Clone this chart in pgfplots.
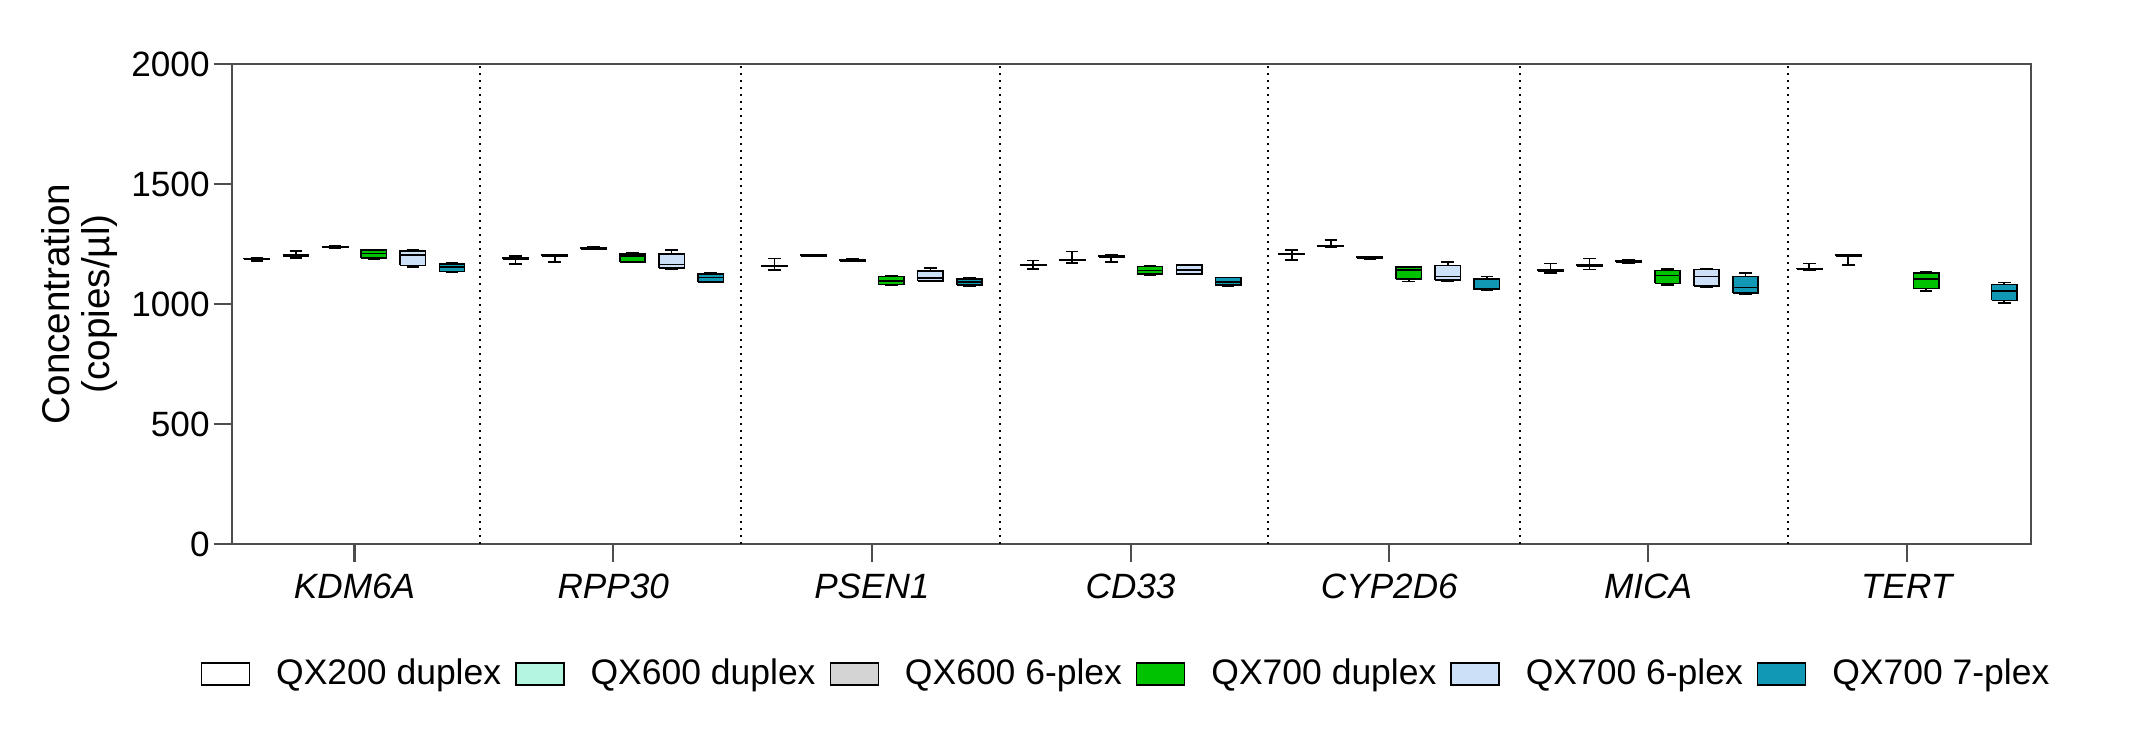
\documentclass[border=0pt]{standalone}
\usepackage{fontspec}
\setmainfont{Liberation Sans}
\usepackage{pgfplots}
\pgfplotsset{compat=1.18}
\definecolor{cA}{HTML}{FFFFFF}
\definecolor{cB}{HTML}{B3F5E1}
\definecolor{cC}{HTML}{D4D4D4}
\definecolor{cD}{HTML}{00C200}
\definecolor{cE}{HTML}{CCE0F8}
\definecolor{cF}{HTML}{1198B5}
\definecolor{axgray}{HTML}{4D4D4D}
\pgfplotsset{legend image code/.code={\draw[#1, line width=0.4pt] (0mm,-1.1mm) rectangle (4.8mm,1.1mm);}}
% \bx{fill}{position}{lower whisker}{lower quartile}{median}{upper quartile}{upper whisker}
\newcommand{\bx}[7]{%
  \pgfmathsetmacro{\bxL}{#2-0.049}\pgfmathsetmacro{\bxR}{#2+0.049}%
  \pgfmathsetmacro{\capL}{#2-0.0245}\pgfmathsetmacro{\capR}{#2+0.0245}%
  \edef\doit{%
    \noexpand\addplot[forget plot, black, line width=0.45pt] coordinates {(#2,#6) (#2,#7)};
    \noexpand\addplot[forget plot, black, line width=0.45pt] coordinates {(#2,#4) (#2,#3)};
    \noexpand\addplot[forget plot, black, line width=0.45pt] coordinates {(\capL,#7) (\capR,#7)};
    \noexpand\addplot[forget plot, black, line width=0.45pt] coordinates {(\capL,#3) (\capR,#3)};
    \noexpand\addplot[forget plot, draw=black, line width=0.45pt, fill=#1] coordinates {(\bxL,#4) (\bxR,#4) (\bxR,#6) (\bxL,#6) (\bxL,#4)};
    \noexpand\addplot[forget plot, black, line width=0.45pt] coordinates {(\bxL,#5) (\bxR,#5)};
  }\doit}
\newcommand{\sepline}[1]{\addplot[forget plot, black, line width=0.22mm, dash pattern=on 0.2mm off 0.5mm] coordinates {(#1,0) (#1,2000)};}
\begin{document}
\begin{tikzpicture}
\useasboundingbox (-23.2mm,-18.6mm) rectangle (190.4mm,54.4mm);
\begin{axis}[
  at={(0,0)}, anchor=south west,
  width=179.9mm, height=48mm, scale only axis,
  xmin=-0.4735, xmax=6.4804, ymin=0, ymax=2000,
  ytick={0,500,1000,1500,2000},
  xtick={0,1,2,3,4,5,6},
  xticklabels={KDM6A,RPP30,PSEN1,CD33,CYP2D6,MICA,TERT},
  tick align=outside, tick pos=left, major tick length=1.8mm,
  axis line style={axgray, line width=0.6pt},
  every tick/.style={axgray, line width=0.6pt},
  /pgf/number format/assume math mode=true, /pgf/number format/1000 sep={},
  yticklabel style={font=\fontsize{10}{12}\selectfont, xshift=0.8mm},
  xticklabel style={font=\fontsize{10}{12}\selectfont\itshape},
  ylabel={Concentration\\(copies/µl)},
  every axis y label/.style={at={(axis description cs:-0.0848,0.5)}, rotate=90, anchor=center,
    align=center, font=\fontsize{11}{11.5}\selectfont},
  legend columns=6,
  legend style={at={(0.4992,-0.2708)}, anchor=center, draw=none, fill=none,
    font=\fontsize{10.1}{12}\selectfont, nodes={inner xsep=1mm},
    /tikz/every odd column/.append style={column sep=1.6mm},
    /tikz/every even column/.append style={column sep=0.4mm}},
]
\addlegendimage{draw=black, fill=cA}\addlegendentry{QX200 duplex}
\addlegendimage{draw=black, fill=cB}\addlegendentry{QX600 duplex}
\addlegendimage{draw=black, fill=cC}\addlegendentry{QX600 6-plex}
\addlegendimage{draw=black, fill=cD}\addlegendentry{QX700 duplex}
\addlegendimage{draw=black, fill=cE}\addlegendentry{QX700 6-plex}
\addlegendimage{draw=black, fill=cF}\addlegendentry{QX700 7-plex}

\sepline{0.485}\sepline{1.494}\sepline{2.495}\sepline{3.531}\sepline{4.505}\sepline{5.541}

% KDM6A
\bx{cA}{-0.377}{1179}{1186}{1188}{1190}{1194}
\bx{cB}{-0.226}{1192}{1198}{1201}{1203}{1221}
\bx{cC}{-0.075}{1234}{1236}{1238}{1239}{1241}
\bx{cD}{0.075}{1188}{1192}{1211}{1226}{1227}
\bx{cE}{0.226}{1153}{1161}{1204}{1222}{1225}
\bx{cF}{0.377}{1132}{1136}{1153}{1167}{1170}
% RPP30
\bx{cA}{0.623}{1167}{1188}{1190}{1192}{1199}
\bx{cB}{0.774}{1174}{1201}{1203}{1205}{1206}
\bx{cC}{0.925}{1228}{1230}{1232}{1234}{1240}
\bx{cD}{1.075}{1174}{1176}{1200}{1208}{1215}
\bx{cE}{1.226}{1147}{1149}{1165}{1208}{1224}
\bx{cF}{1.377}{1090}{1092}{1110}{1125}{1129}
% PSEN1
\bx{cA}{1.623}{1142}{1156}{1158}{1160}{1190}
\bx{cB}{1.774}{1199}{1201}{1202}{1203}{1205}
\bx{cC}{1.925}{1179}{1180}{1182}{1183}{1188}
\bx{cD}{2.075}{1078}{1081}{1097}{1114}{1119}
\bx{cE}{2.226}{1094}{1097}{1108}{1138}{1149}
\bx{cF}{2.377}{1075}{1078}{1092}{1104}{1110}
% CD33
\bx{cA}{2.623}{1147}{1161}{1163}{1165}{1182}
\bx{cB}{2.774}{1171}{1181}{1183}{1185}{1219}
\bx{cC}{2.925}{1176}{1195}{1197}{1199}{1207}
\bx{cD}{3.075}{1119}{1125}{1140}{1156}{1161}
\bx{cE}{3.226}{1125}{1126}{1142}{1163}{1164}
\bx{cF}{3.377}{1076}{1079}{1092}{1110}{1111}
% CYP2D6
\bx{cA}{3.623}{1183}{1206}{1208}{1210}{1226}
\bx{cB}{3.774}{1238}{1239}{1240}{1242}{1267}
\bx{cC}{3.925}{1188}{1190}{1193}{1195}{1196}
\bx{cD}{4.075}{1093}{1104}{1142}{1154}{1155}
\bx{cE}{4.226}{1096}{1100}{1115}{1161}{1174}
\bx{cF}{4.377}{1056}{1060}{1063}{1104}{1115}
% MICA
\bx{cA}{4.623}{1129}{1138}{1140}{1142}{1169}
\bx{cB}{4.774}{1144}{1158}{1160}{1162}{1190}
\bx{cC}{4.925}{1169}{1175}{1178}{1181}{1183}
\bx{cD}{5.075}{1079}{1086}{1118}{1140}{1146}
\bx{cE}{5.226}{1068}{1075}{1114}{1143}{1147}
\bx{cF}{5.377}{1042}{1046}{1068}{1114}{1128}
% TERT
\bx{cA}{5.623}{1140}{1144}{1146}{1148}{1169}
\bx{cB}{5.774}{1163}{1201}{1203}{1205}{1206}
\bx{cD}{6.075}{1054}{1065}{1103}{1129}{1135}
\bx{cF}{6.377}{1003}{1015}{1053}{1081}{1090}
\end{axis}
\end{tikzpicture}
\end{document}
